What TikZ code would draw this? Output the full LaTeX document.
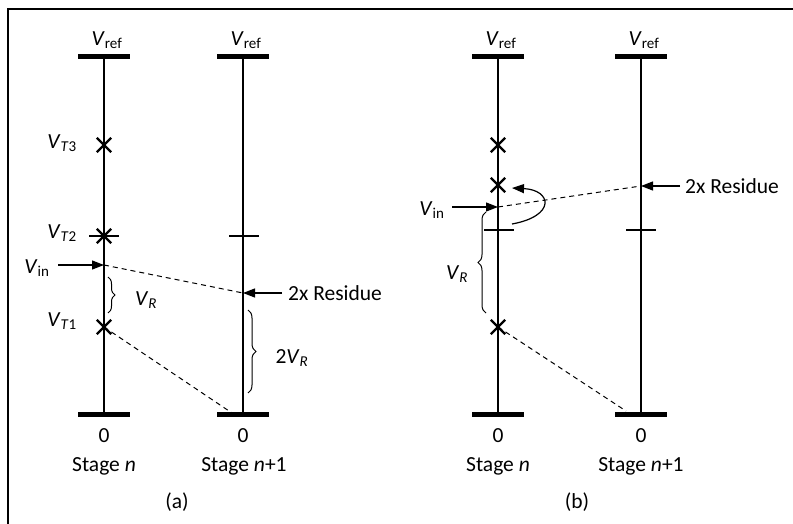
\documentclass[tikz,border=0pt]{standalone}
\usepackage{fontspec}
\setmainfont{Carlito}
\usetikzlibrary{arrows.meta,decorations.pathreplacing,shapes.misc}
\newcommand{\Vx}[1]{\textit{V}\textsubscript{#1}}
\begin{document}
\begin{tikzpicture}[x=1pt,y=-1pt,
  lbl/.style={font=\fontsize{21.5}{24}\selectfont, inner sep=0pt},
  stageline/.style={line width=1.1pt},
  barnode/.style={fill=black, rectangle, minimum width=52pt, minimum height=5pt, inner sep=0pt},
  ticknode/.style={fill=black, rectangle, minimum width=30pt, minimum height=1.1pt, inner sep=0pt},
  dashline/.style={line width=1pt, dash pattern=on 5pt off 4pt},
  xmark/.style={draw, cross out, minimum size=12pt, inner sep=0pt, line width=2.4pt},
  arr/.style={line width=1.2pt, -{Triangle[length=12pt,width=9pt]}},
  brc/.style={decorate, decoration={brace, amplitude=7pt}, line width=1pt}]
\useasboundingbox (0,0) rectangle (793,524);
% frame
\coordinate (fBL) at (8,524);
\coordinate (fTL) at (8,9);
\coordinate (fTR) at (793,9);
\draw[line width=1.3pt] (fBL) -- (fTL) -- (fTR);

%%%%%%%%%%%%%%%% panel (a)
\coordinate (aTop) at (104,57);
\coordinate (aBot) at (104,414);
\coordinate (a1Top) at (243,57);
\coordinate (a1Bot) at (243,414);
\draw[stageline] (aTop) -- (aBot);
\draw[stageline] (a1Top) -- (a1Bot);
\node[barnode] (aBarT) at (aTop) {};
\node[barnode] (aBarB) at (aBot) {};
\node[barnode] (a1BarT) at (a1Top) {};
\node[barnode] (a1BarB) at (a1Bot) {};
\node[lbl] (aVref) at (107,40) {\Vx{ref}};
\node[lbl] (a1Vref) at (246,40) {\Vx{ref}};
% thresholds
\node[ticknode] (aTick) at (104,236) {};
\node[ticknode] (a1Tick) at (244,236) {};
\node[xmark] (aT3) at (104,145) {};
\node[xmark] (aT2) at (104,236) {};
\node[xmark] (aT1) at (104,327) {};
\node[lbl] (aT3l) at (62,143) {\Vx{\textit{T}3}};
\node[lbl] (aT2l) at (62,233) {\Vx{\textit{T}2}};
\node[lbl] (aT1l) at (62,321) {\Vx{\textit{T}1}};
% vin
\coordinate (aVinP) at (104,265);
\coordinate (aVinS) at (58,265);
\draw[arr] (aVinS) -- (aVinP);
\node[lbl] (aVin) at (37,268) {\Vx{in}};
% residue
\coordinate (aResP) at (243,293);
\coordinate (aResS) at (282,293);
\draw[arr] (aResS) -- (aResP);
\node[lbl, anchor=west] (aRes) at (288,293) {2x Residue};
\draw[dashline] (aVinP) -- (aResP);
\coordinate (aZeroP) at (232,413);
\draw[dashline] (aT1.center) -- (aZeroP);
% braces
\coordinate (aBr1) at (108,277);
\coordinate (aBr2) at (108,313);
\draw[brc] (aBr1) -- (aBr2);
\node[lbl] (aVR) at (146,300) {\textit{V}\textsubscript{\textit{R}}};
\coordinate (aBr3) at (248,310);
\coordinate (aBr4) at (248,393);
\draw[brc, decoration={brace, amplitude=8pt}] (aBr3) -- (aBr4);
\node[lbl] (a2VR) at (292,358) {2\textit{V}\textsubscript{\textit{R}}};
% bottom labels
\node[lbl] (aZero) at (104,436) {0};
\node[lbl] (a1Zero) at (243,436) {0};
\node[lbl] (aStage) at (104,466) {Stage \textit{n}};
\node[lbl] (a1Stage) at (244,466) {Stage \textit{n}+1};
\node[lbl] (aCap) at (177,502) {(a)};

%%%%%%%%%%%%%%%% panel (b)
\coordinate (bTop) at (498,57);
\coordinate (bBot) at (498,414);
\coordinate (b1Top) at (641,57);
\coordinate (b1Bot) at (641,414);
\draw[stageline] (bTop) -- (bBot);
\draw[stageline] (b1Top) -- (b1Bot);
\node[barnode] (bBarT) at (bTop) {};
\node[barnode] (bBarB) at (bBot) {};
\node[barnode] (b1BarT) at (b1Top) {};
\node[barnode] (b1BarB) at (b1Bot) {};
\node[lbl] (bVref) at (501,40) {\Vx{ref}};
\node[lbl] (b1Vref) at (644,40) {\Vx{ref}};
\node[ticknode] (bTick) at (499,230) {};
\node[ticknode] (b1Tick) at (641,230) {};
\node[xmark] (bT3) at (498,145) {};
\node[xmark] (bT2) at (498,185) {};
\node[xmark] (bT1) at (498,327) {};
% vin
\coordinate (bVinP) at (498,207);
\coordinate (bVinS) at (452,207);
\draw[arr] (bVinS) -- (bVinP);
\node[lbl] (bVin) at (432,210) {\Vx{in}};
% residue
\coordinate (bResP) at (641,186);
\coordinate (bResS) at (680,186);
\draw[arr] (bResS) -- (bResP);
\node[lbl, anchor=west] (bRes) at (685,186) {2x Residue};
\draw[dashline] (bVinP) -- (bResP);
\coordinate (bZeroP) at (626,411);
\draw[dashline] (bT1.center) -- (bZeroP);
% curved arrow
\coordinate (bCs) at (512,224);
\coordinate (bCe) at (512,188);
\draw[arr] (bCs) .. controls (556,216) and (552,190) .. (bCe);
% brace
\coordinate (bBr1) at (486,313);
\coordinate (bBr2) at (486,212);
\draw[brc, decoration={brace, amplitude=8pt}] (bBr1) -- (bBr2);
\node[lbl] (bVR) at (457,274) {\textit{V}\textsubscript{\textit{R}}};
% bottom labels
\node[lbl] (bZero) at (498,436) {0};
\node[lbl] (b1Zero) at (641,436) {0};
\node[lbl] (bStage) at (498,466) {Stage \textit{n}};
\node[lbl] (b1Stage) at (641,466) {Stage \textit{n}+1};
\node[lbl] (bCap) at (577,502) {(b)};
\end{tikzpicture}
\end{document}
